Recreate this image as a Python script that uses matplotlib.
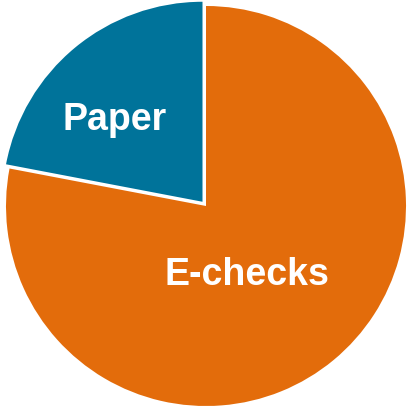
import matplotlib
matplotlib.use("Agg")
import matplotlib.pyplot as plt

labels = ["Paper", "E-checks"]
shares = [22, 78]
colors = ["#00739A", "#E36C0B"]
explode = [5.5, 0]

fig = plt.figure(figsize=(4.08, 4.07), dpi=100)
ax = fig.add_axes([0, 0, 1, 1])

ax.pie(shares, colors=colors, explode=explode, startangle=90,
       counterclock=True, radius=200, center=(206, 201),
       wedgeprops=dict(linewidth=0), frame=True)
ax.set_xlim(0, 408)
ax.set_ylim(0, 407)
ax.axis("off")

font = ["Liberation Sans Narrow", "Liberation Sans", "DejaVu Sans"]
ax.text(115, 407 - 120, labels[0], color="white", fontsize=27,
        fontweight="bold", family=font, ha="center", va="center")
ax.text(247, 407 - 275, labels[1], color="white", fontsize=27,
        fontweight="bold", family=font, ha="center", va="center")

fig.savefig("out.png", dpi=100)
